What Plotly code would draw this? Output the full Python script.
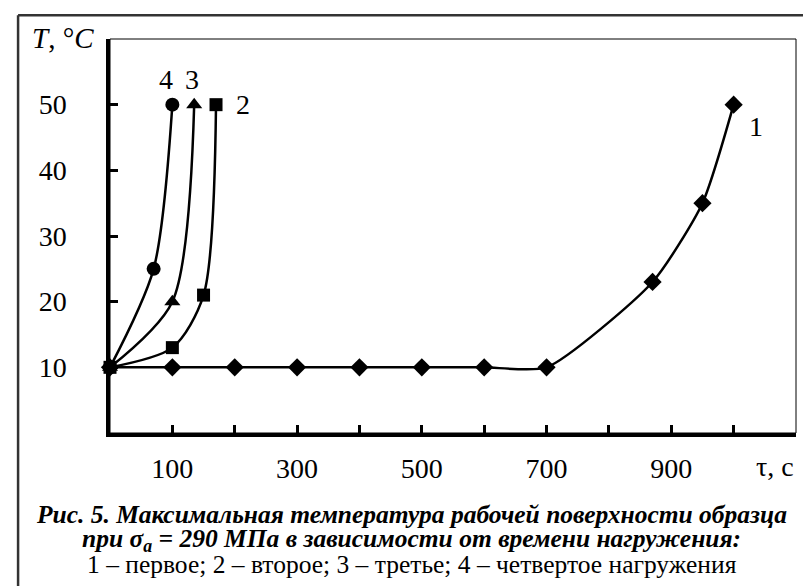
import plotly.graph_objects as go

# ---- data ----
tau_1 = [0, 100, 200, 300, 400, 500, 600, 700, 870, 950, 1000]
temp_1 = [10, 10, 10, 10, 10, 10, 10, 10, 23, 35, 50]
tau_2 = [0, 100, 150, 170]
temp_2 = [10, 13, 21, 50]
tau_3 = [0, 100, 135]
temp_3 = [10, 20, 50]
tau_4 = [0, 70, 100]
temp_4 = [10, 25, 50]

x_tickvals = [0, 100, 200, 300, 400, 500, 600, 700, 800, 900, 1000, 1100]
x_ticktext = ["", "100", "", "300", "", "500", "", "700", "", "900", "", ""]
y_tickvals = [0, 10, 20, 30, 40, 50, 60]
y_ticktext = ["", "10", "20", "30", "40", "50", ""]

curve_labels = ["1", "2", "3", "4"]
caption_1 = "<b><i>Рис. 5. Максимальная температура рабочей поверхности образца</i></b>"
caption_2 = "<b><i>при σ<sub>a</sub> = 290 МПа в зависимости от времени нагружения:</i></b>"
caption_3 = "1 – первое; 2 – второе; 3 – третье; 4 – четвертое нагружения"

FONT = "Liberation Serif"
BLACK = "#000000"

fig = go.Figure()

series = [
    (tau_1, temp_1, "diamond", 14, 0.6),
    (tau_2, temp_2, "square", 13, 0.8),
    (tau_3, temp_3, "triangle-up", 14, 0.8),
    (tau_4, temp_4, "circle", 14, 0.8),
]
for xs, ys, sym, sz, sm in series:
    fig.add_trace(go.Scatter(
        x=xs, y=ys, mode="lines+markers",
        line=dict(color=BLACK, width=2.5, shape="spline", smoothing=sm),
        marker=dict(symbol=sym, size=sz, color=BLACK),
        showlegend=False, cliponaxis=False,
    ))

# plot-area thin frame (top/right)
fig.add_shape(type="rect", xref="paper", yref="paper", x0=0, x1=1, y0=0, y1=1,
              line=dict(color=BLACK, width=1), layer="below")
# outer figure frame (top and left lines)
fig.add_shape(type="line", xref="paper", yref="paper", x0=-0.134, x1=1.04, y0=1.06, y1=1.06,
              line=dict(color="#333333", width=2.5))
fig.add_shape(type="line", xref="paper", yref="paper", x0=-0.134, x1=-0.134, y0=1.06, y1=-0.42,
              line=dict(color="#333333", width=2.5))

label_pos = [(1036, 46.7), (214, 50), (132, 53.8), (89, 53.8)]
for txt, (lx, ly) in zip(curve_labels, label_pos):
    fig.add_annotation(x=lx, y=ly, xref="x", yref="y", text=txt, showarrow=False,
                       font=dict(family=FONT, size=28, color=BLACK),
                       xanchor="center", yanchor="middle")

fig.add_annotation(x=-0.068, y=1.0025, xref="paper", yref="paper",
                   text="<i>T</i>, °<i>C</i>", showarrow=False,
                   font=dict(family=FONT, size=29, color=BLACK),
                   xanchor="center", yanchor="middle")
fig.add_annotation(x=0.97, y=-0.0838, xref="paper", yref="paper",
                   text="τ, c", showarrow=False,
                   font=dict(family=FONT, size=28, color=BLACK),
                   xanchor="center", yanchor="middle")

for txt, yy in [(caption_1, -0.208), (caption_2, -0.2716), (caption_3, -0.335)]:
    fig.add_annotation(x=0.44, y=yy, xref="paper", yref="paper",
                       text=txt, showarrow=False,
                       font=dict(family=FONT, size=25.5, color=BLACK),
                       xanchor="center", yanchor="middle")

fig.update_layout(
    width=811, height=586,
    margin=dict(l=102, r=23, t=31, b=161),
    paper_bgcolor="white", plot_bgcolor="white",
    font=dict(family=FONT, size=28, color=BLACK),
    xaxis=dict(range=[0, 1100], tickvals=x_tickvals, ticktext=x_ticktext,
               ticks="inside", ticklen=8, tickwidth=2.5, tickcolor=BLACK,
               showline=True, linecolor=BLACK, linewidth=3.5, showgrid=False,
               zeroline=False, ticklabelstandoff=8,
               tickfont=dict(family=FONT, size=28, color=BLACK)),
    yaxis=dict(range=[0, 60], tickvals=y_tickvals, ticktext=y_ticktext,
               ticks="inside", ticklen=8, tickwidth=2.5, tickcolor=BLACK,
               showline=True, linecolor=BLACK, linewidth=3.5, showgrid=False,
               zeroline=False, ticklabelstandoff=34,
               tickfont=dict(family=FONT, size=28, color=BLACK)),
)

fig.write_html("out.html")
